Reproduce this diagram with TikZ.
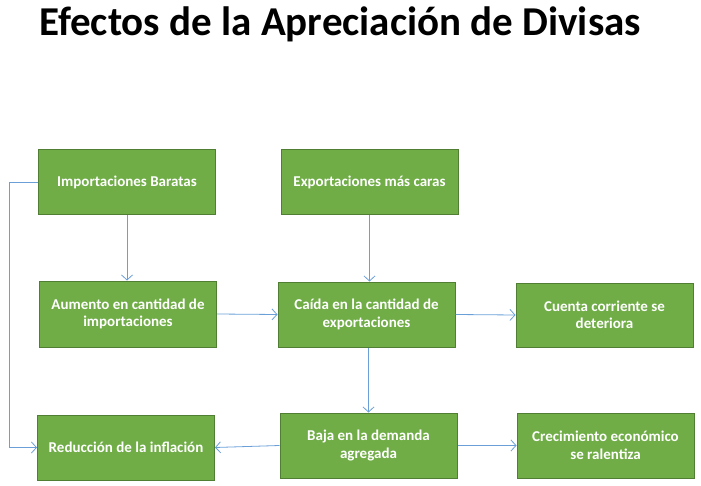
\documentclass[tikz,border=0pt]{standalone}
\usepackage{fontspec}
\setmainfont{Carlito}
\usetikzlibrary{arrows.meta}
\definecolor{boxfill}{HTML}{70AD47}
\definecolor{boxline}{HTML}{507E32}
\definecolor{arrowc}{HTML}{6A9FD8}
\tikzset{
  box/.style={draw=boxline, line width=1pt, fill=boxfill, minimum width=177pt, minimum height=65pt,
    inner sep=0pt, align=center, text=white, font=\fontsize{15}{17.5}\selectfont\bfseries},
  conn/.style={draw=arrowc, line width=0.8pt, -{Straight Barb[length=5pt,width=11pt]}}
}
\begin{document}
\begin{tikzpicture}[x=1pt,y=-1pt]
\useasboundingbox (0,0) rectangle (701,486);
\node[anchor=base west, inner sep=0pt, font=\fontsize{41}{45}\selectfont\bfseries] (title) at (39,36) {Efectos de la Apreciación de Divisas};
\node[box] (imp) at (127,182.5) {Importaciones Baratas};
\node[box] (exp) at (369.5,182.5) {Exportaciones más caras};
\node[box, minimum height=66pt] (aum) at (128,314) {Aumento en cantidad de\\importaciones};
\node[box] (cai) at (366.5,314.5) {Caída en la cantidad de\\exportaciones};
\node[box, minimum height=64pt] (cue) at (604.5,315) {Cuenta corriente se\\deteriora};
\node[box] (red) at (126,447.5) {Reducción de la inflación};
\node[box] (baja) at (368.5,445.5) {Baja en la demanda\\agregada};
\node[box] (cre) at (605.5,445.5) {Crecimiento económico\\se ralentiza};
\coordinate (c1) at (9,182.5);
\coordinate (c2) at (9,447.5);
\draw[conn] (imp.south) -- (imp.south |- aum.north);
\draw[conn] (exp.south) -- (exp.south |- cai.north);
\draw[conn] (aum.east) -- (cai.west);
\draw[conn] (cai.east) -- (cue.west);
\draw[conn] (baja.north |- cai.south) -- (baja.north);
\draw[conn] (baja.west) -- (red.east);
\draw[conn] (baja.east) -- (cre.west);
\draw[conn] (imp.west) -- (c1) -- (c2) -- (red.west);
\end{tikzpicture}
\end{document}
